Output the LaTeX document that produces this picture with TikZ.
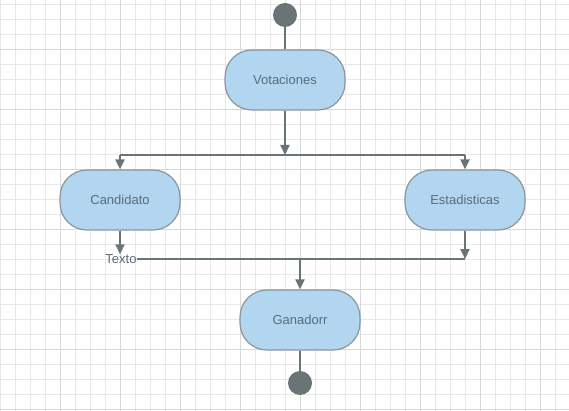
\documentclass[tikz,border=0pt]{standalone}
\usepackage{fontspec}
\setmainfont{Liberation Sans}
\usetikzlibrary{arrows.meta}

\begin{document}
\begin{tikzpicture}[x=1pt,y=-1pt,
    actbox/.style={shape=rectangle,draw=act_border,fill=act_fill,line width=1.2pt,rounded corners=27pt,minimum width=120pt,minimum height=60pt,text=act_text,font=\fontsize{13}{15}\selectfont},
    endpoint/.style={shape=circle,fill=act_line,minimum size=24pt,inner sep=0pt},
    flow/.style={draw=act_line,line width=2pt},
    flowarr/.style={flow,-{Triangle[length=10pt,width=9pt]}}]
    \definecolor{act_fill}{RGB}{178,214,240}
    \definecolor{act_border}{RGB}{138,150,158}
    \definecolor{act_text}{RGB}{90,108,122}
    \definecolor{act_line}{RGB}{104,116,117}
    \definecolor{grid_minor}{RGB}{232,232,232}
    \definecolor{grid_major}{RGB}{216,216,216}
    \useasboundingbox (0,0) rectangle (569,411);
    % grid
    \foreach \gx in {0,15,...,569} { \draw[grid_minor,line width=0.6pt] (\gx,0) -- (\gx,411); }
    \foreach \gy in {4,19,...,411} { \draw[grid_minor,line width=0.6pt] (0,\gy) -- (569,\gy); }
    \foreach \gx in {60,120,...,569} { \draw[grid_major,line width=0.8pt] (\gx,0) -- (\gx,411); }
    \foreach \gy in {49,109,...,411} { \draw[grid_major,line width=0.8pt] (0,\gy) -- (569,\gy); }
    % nodes
    \node[endpoint] (start) at (285,15) {};
    \node[actbox] (vot) at (285,80) {Votaciones};
    \node[actbox] (cand) at (120,200) {Candidato};
    \node[actbox] (est) at (465,200) {Estadisticas};
    \node[actbox] (gan) at (300,320) {Ganadorr};
    \node[endpoint] (stop) at (300,383) {};
    \node[text=act_text,inner sep=0pt,font=\fontsize{13}{15}\selectfont] (texto) at (121,259) {Texto};
    \coordinate (forkL) at (120,155);
    \coordinate (forkM) at (285,155);
    \coordinate (forkR) at (465,155);
    \coordinate (joinR) at (465,259);
    \coordinate (joinM) at (300,259);
    % connectors
    \draw[flow] (start) -- (vot);
    \draw[flowarr] (vot) -- (forkM);
    \draw[flow] (forkL) -- (forkR);
    \draw[flowarr] (forkL) -- (cand);
    \draw[flowarr] (forkR) -- (est);
    \draw[flowarr] (cand.south) -- (cand.south |- texto.north);
    \draw[flowarr] (est) -- (joinR);
    \draw[flow] (texto.east) -- (joinR);
    \draw[flowarr] (joinM) -- (gan);
    \draw[flow] (gan) -- (stop);
\end{tikzpicture}
\end{document}
